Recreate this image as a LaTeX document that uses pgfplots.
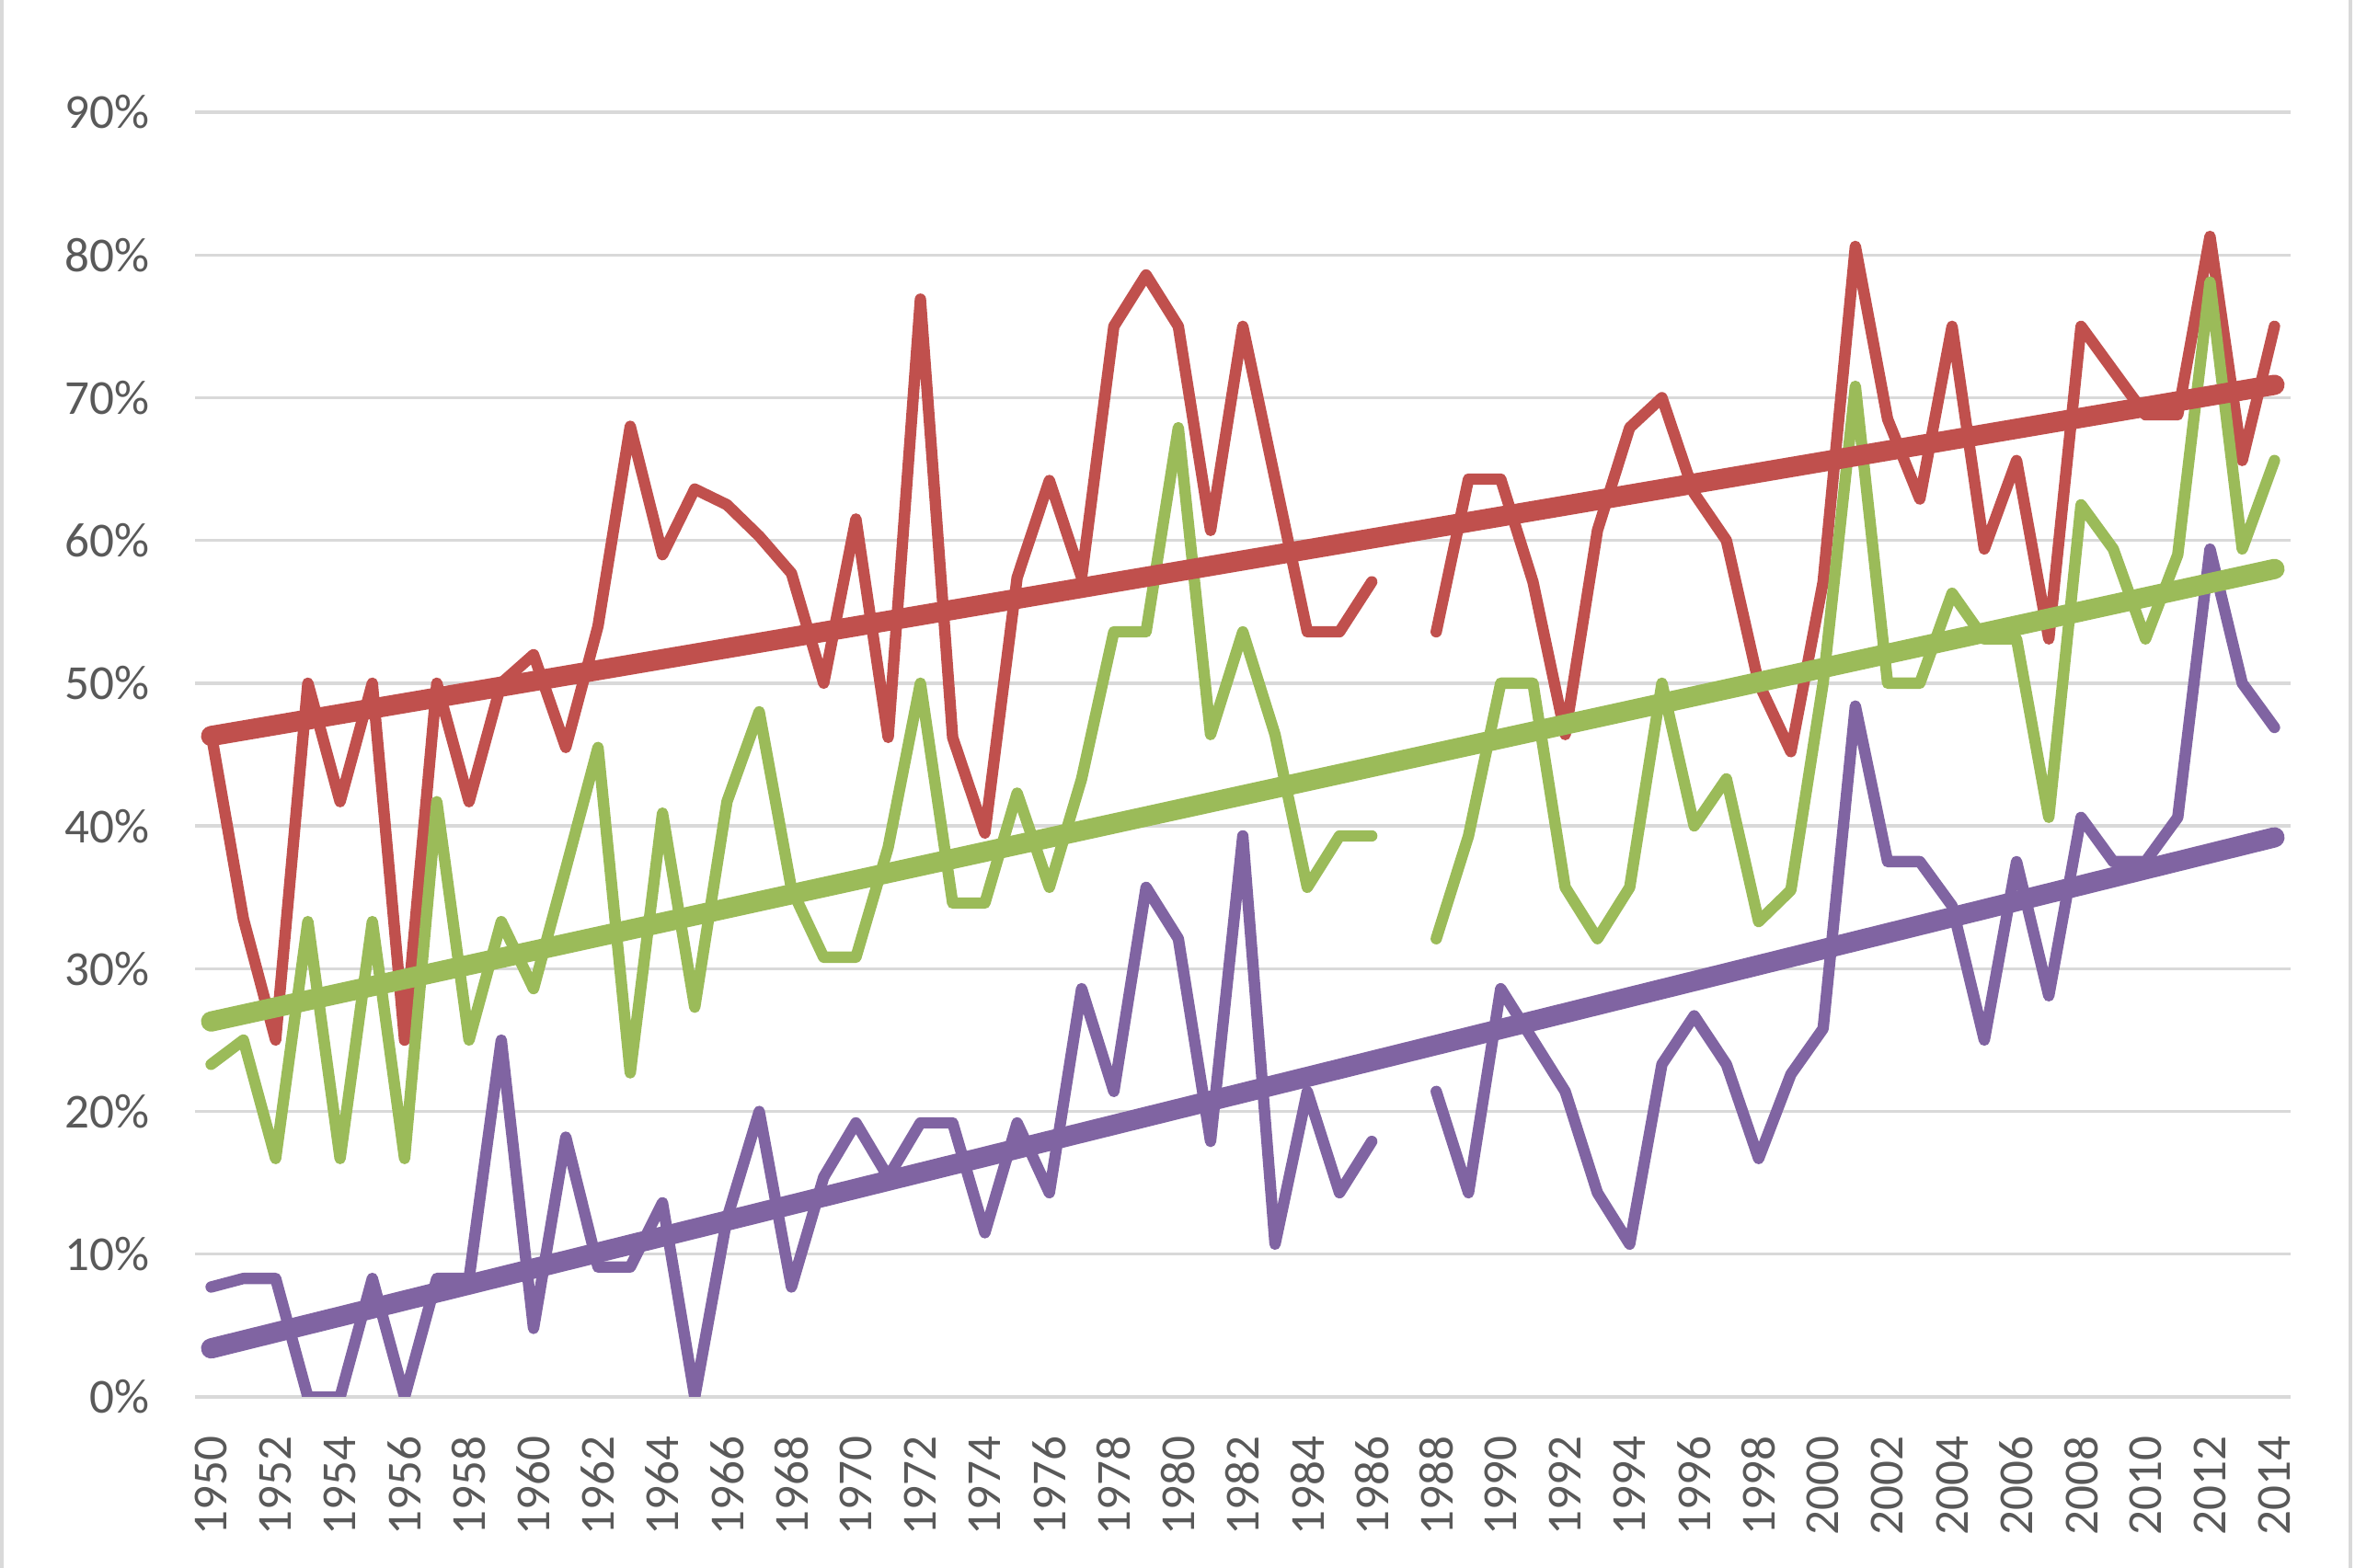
\documentclass[border=0pt]{standalone}
\usepackage{pgfplots}
\pgfplotsset{compat=1.18}
\usepackage{pgfplotstable}
\usepackage{fontspec}
\setmainfont{Carlito}
\definecolor{cred}{HTML}{C0504D}
\definecolor{cgreen}{HTML}{9BBB59}
\definecolor{cpurple}{HTML}{8064A2}
\definecolor{cgrid}{HTML}{D9D9D9}
\definecolor{ctext}{HTML}{595959}
\pgfplotstableread{
year red green purple
1950 46.5 23.3 7.7
1951 33.5 25.0 8.3
1952 25.0 16.7 8.3
1953 50.0 33.3 0
1954 41.7 16.7 0
1955 50.0 33.3 8.3
1956 25.0 16.7 0
1957 50.0 41.7 8.3
1958 41.7 25.0 8.3
1959 50.0 33.3 25.0
1960 52.0 28.6 4.8
1961 45.5 37.0 18.2
1962 54.0 45.5 9.1
1963 68.0 22.7 9.1
1964 59.0 40.9 13.6
1965 63.6 27.3 0
1966 62.5 41.7 12.5
1967 60.3 48.0 20.0
1968 57.7 35.6 7.7
1969 50.0 30.8 15.4
1970 61.5 30.8 19.2
1971 46.2 38.5 15.4
1972 76.9 50.0 19.2
1973 46.2 34.6 19.2
1974 39.5 34.6 11.5
1975 57.4 42.3 19.2
1976 64.2 35.7 14.3
1977 57.4 43.3 28.6
1978 75.0 53.6 21.4
1979 78.6 53.6 35.7
1980 75.0 67.9 32.1
1981 60.7 46.4 17.9
1982 75.0 53.6 39.3
1983 64.3 46.4 10.7
1984 53.6 35.7 21.4
1985 53.6 39.3 14.3
1986 57.1 39.3 17.9
1987 nan nan nan
1988 53.6 32.1 21.4
1989 64.3 39.3 14.3
1990 64.3 50.0 28.6
1991 57.1 50.0 25.0
1992 46.4 35.7 21.4
1993 60.7 32.1 14.3
1994 67.9 35.7 10.7
1995 70.0 50.0 23.3
1996 63.3 40.0 26.7
1997 60.0 43.3 23.3
1998 50.0 33.3 16.7
1999 45.2 35.5 22.6
2000 57.1 50.0 25.8
2001 80.6 70.8 48.4
2002 68.5 50.0 37.5
2003 62.9 50.0 37.5
2004 75.0 56.3 34.4
2005 59.4 53.1 25.0
2006 65.6 53.1 37.5
2007 53.1 40.6 28.1
2008 75.0 62.5 40.6
2009 71.9 59.4 37.5
2010 68.8 53.1 37.5
2011 68.8 59.0 40.6
2012 81.3 78.1 59.4
2013 65.6 59.4 50.0
2014 75.0 65.6 46.9
}\datatable
\begin{document}
\begin{tikzpicture}
\path[use as bounding box] (0,0) rectangle (768bp,511.5bp);
\draw[cgrid, line width=1.2bp] (0.6bp,0) -- (0.6bp,511.5bp);
\draw[cgrid, line width=1.2bp] (766.5bp,0) -- (766.5bp,511.5bp);
\begin{axis}[
 at={(63.6bp,55.8bp)}, anchor=south west,
 scale only axis, width=683.4bp, height=419.1bp,
 xmin=1949.5, xmax=2014.5, ymin=0, ymax=90,
 axis line style={draw=none},
 major tick length=0pt,
 ytick={0,10,...,90},
 xtick={1950,1952,...,2014},
 ymajorgrids, grid style={cgrid, line width=1bp},
 yticklabel={\pgfmathprintnumber{\tick}\%},
 /pgf/number format/assume math mode=true,
 /pgf/number format/1000 sep={},
 tick label style={font=\fontsize{16}{19}\selectfont, text=ctext},
 yticklabel style={anchor=east, inner sep=0pt, xshift=-14.7bp},
 xticklabel style={yshift=-12.5bp, rotate=90, anchor=east, inner sep=0pt},
 unbounded coords=jump,
]
\addplot[cred, line width=3.7bp, line join=round, line cap=round] table[x=year,y=red]{\datatable};
\addplot[cgreen, line width=3.7bp, line join=round, line cap=round] table[x=year,y=green]{\datatable};
\addplot[cpurple, line width=3.7bp, line join=round, line cap=round] table[x=year,y=purple]{\datatable};
\addplot[cred, line width=6.6bp, line cap=round] coordinates {(1950,46.3) (2014,70.9)};
\addplot[cgreen, line width=6.6bp, line cap=round] coordinates {(1950,26.3) (2014,58.0)};
\addplot[cpurple, line width=6.6bp, line cap=round] coordinates {(1950,3.4) (2014,39.2)};
\end{axis}
\end{tikzpicture}
\end{document}
